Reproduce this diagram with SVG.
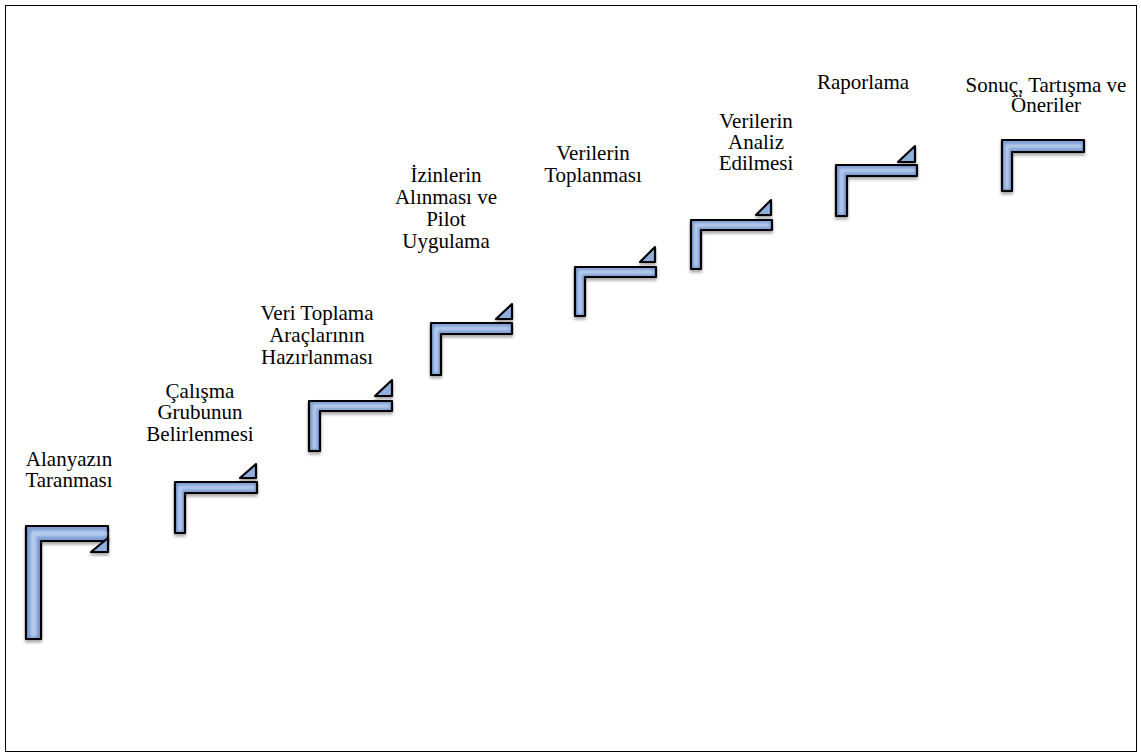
<svg xmlns="http://www.w3.org/2000/svg" width="1141" height="756" viewBox="0 0 1141 756">
<style>
.lbl{font-family:"Liberation Serif","Times New Roman",serif;font-size:21px;fill:#000;text-anchor:middle}
.step{fill:#7f9fd4;stroke:#000;stroke-width:2.2;stroke-linejoin:round;filter:url(#sh)}
.tri{fill:#8fb0de;stroke:#000;stroke-width:2.2;stroke-linejoin:round;filter:url(#sh)}
.hl{fill:none;stroke:#b4caec;stroke-width:4;stroke-linejoin:round;stroke-linecap:round;filter:url(#bl)}
</style>
<defs>
<filter id="sh" x="-20%" y="-20%" width="140%" height="150%">
<feDropShadow dx="0" dy="2.5" stdDeviation="1.8" flood-color="#000" flood-opacity="0.35"/>
</filter>
<filter id="bl" x="-10%" y="-10%" width="120%" height="120%">
<feGaussianBlur stdDeviation="1"/>
</filter>
</defs>
<rect x="5.5" y="5.5" width="1131" height="746" fill="#fff" stroke="#000" stroke-width="1"/>
<g id="connectors"/>
<g id="n1">
<path class="step" d="M26,526 H108 V541 H41 V639 H26 Z"/>
<polyline class="hl" style="stroke-width:6" points="33.5,634 33.5,533.5 104,533.5"/>
<polygon class="tri" points="91,552 108,552 108,538"/>
<text class="lbl" x="69" y="466">Alanyazın</text>
<text class="lbl" x="69" y="487">Taranması</text>
</g>
<g id="n2">
<path class="step" d="M175,482 H257 V493 H185 V533 H175 Z"/>
<polyline class="hl" points="180,529 180,487.5 253,487.5"/>
<polygon class="tri" points="240,478 256,478 256,464"/>
<text class="lbl" x="200" y="398">Çalışma</text>
<text class="lbl" x="200" y="419">Grubunun</text>
<text class="lbl" x="200" y="441">Belirlenmesi</text>
</g>
<g id="n3">
<path class="step" d="M309,401 H392 V411 H320 V451 H309 Z"/>
<polyline class="hl" points="314.5,447 314.5,406 388,406"/>
<polygon class="tri" points="375,396 392,396 392,380"/>
<text class="lbl" x="317" y="320">Veri Toplama</text>
<text class="lbl" x="317" y="342">Araçlarının</text>
<text class="lbl" x="317" y="364">Hazırlanması</text>
</g>
<g id="n4">
<path class="step" d="M431,323 H512 V334 H441 V375 H431 Z"/>
<polyline class="hl" points="436,371 436,328.5 508,328.5"/>
<polygon class="tri" points="496,319 512,319 512,304"/>
<text class="lbl" x="446" y="182">İzinlerin</text>
<text class="lbl" x="446" y="204">Alınması ve</text>
<text class="lbl" x="446" y="226">Pilot</text>
<text class="lbl" x="446" y="248">Uygulama</text>
</g>
<g id="n5">
<path class="step" d="M575,267 H656 V277 H585 V316 H575 Z"/>
<polyline class="hl" points="580,312 580,272 652,272"/>
<polygon class="tri" points="640,262 655,262 655,247"/>
<text class="lbl" x="593" y="160">Verilerin</text>
<text class="lbl" x="593" y="182">Toplanması</text>
</g>
<g id="n6">
<path class="step" d="M691,220 H772 V230 H701 V269 H691 Z"/>
<polyline class="hl" points="696,265 696,225 768,225"/>
<polygon class="tri" points="756,215 771,215 771,200"/>
<text class="lbl" x="756" y="128">Verilerin</text>
<text class="lbl" x="756" y="149">Analiz</text>
<text class="lbl" x="756" y="170">Edilmesi</text>
</g>
<g id="n7">
<path class="step" d="M836,165 H917 V176 H847 V216 H836 Z"/>
<polyline class="hl" points="841.5,212 841.5,170.5 913,170.5"/>
<polygon class="tri" points="898,162 915,162 915,146"/>
<text class="lbl" x="863" y="89">Raporlama</text>
</g>
<g id="n8">
<path class="step" d="M1002,140 H1084 V152 H1012 V191 H1002 Z"/>
<polyline class="hl" points="1007,187 1007,146 1080,146"/>
<text class="lbl" x="1046" y="92">Sonuç, Tartışma ve</text>
<text class="lbl" x="1046" y="112">Öneriler</text>
</g>
</svg>
